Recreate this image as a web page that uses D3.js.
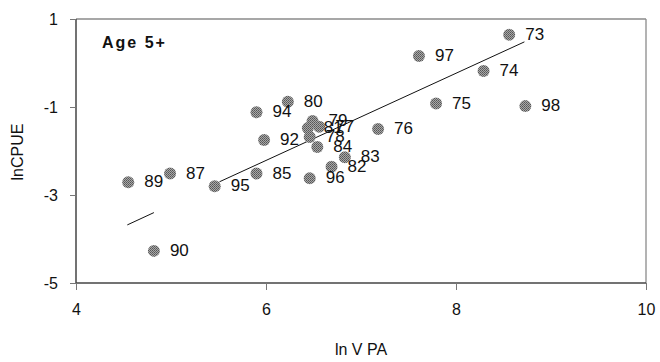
<!DOCTYPE html>
<html>
<head>
<meta charset="utf-8">
<script src="https://cdn.jsdelivr.net/npm/d3@7"></script>
<style>
  html, body { margin: 0; padding: 0; background: #fff; }
  svg { display: block; font-family: "Liberation Sans", Arial, sans-serif; }
</style>
</head>
<body>
<svg id="chart" width="660" height="362"></svg>
<script>
// Year labels (two-digit) with ln VPA and ln CPUE for age 5+
const years = ["73","74","75","76","77","78","79","80","81","82","83","84","85","87","89","90","92","94","95","96","97","98"];
const lnVPA = [8.56, 8.29, 7.79, 7.18, 6.56, 6.46, 6.49, 6.23, 6.44, 6.69, 6.83, 6.54, 5.90, 4.99, 4.55, 4.82, 5.98, 5.90, 5.46, 6.46, 7.61, 8.73];
const lnCPUE = [0.64, -0.18, -0.92, -1.50, -1.45, -1.68, -1.32, -0.88, -1.48, -2.36, -2.14, -1.91, -2.51, -2.51, -2.71, -4.27, -1.75, -1.12, -2.80, -2.62, 0.16, -0.98];

// Fitted trend, drawn in two pieces
const trendX = [[4.54, 4.82], [5.51, 8.72]];
const trendY = [[-3.68, -3.40], [-2.70, 0.48]];

const xTicks = [4, 6, 8, 10];
const yTicks = [1, -1, -3, -5];

const svg = d3.select("#chart");
const m = { left: 76, right: 646, top: 19, bottom: 283 };

const x = d3.scaleLinear().domain([4, 10]).range([m.left, m.right]);
const y = d3.scaleLinear().domain([-5, 1]).range([m.bottom, m.top]);

// Stippled fill for the markers
const defs = svg.append("defs");
const pat = defs.append("pattern")
  .attr("id", "stipple").attr("patternUnits", "userSpaceOnUse")
  .attr("width", 2).attr("height", 2);
pat.append("rect").attr("width", 2).attr("height", 2).attr("fill", "#a8a8a8");
pat.append("rect").attr("width", 1).attr("height", 1).attr("fill", "#555");
pat.append("rect").attr("x", 1).attr("y", 1).attr("width", 1).attr("height", 1).attr("fill", "#666");

// Frame: top and right edges lighter
svg.append("line").attr("x1", m.left).attr("x2", m.right).attr("y1", m.top).attr("y2", m.top)
  .attr("stroke", "#8a8a8a").attr("stroke-width", 1.3);
svg.append("line").attr("x1", m.right).attr("x2", m.right).attr("y1", m.top).attr("y2", m.bottom)
  .attr("stroke", "#8a8a8a").attr("stroke-width", 1.3);

// Axes (plain hyphen for negatives)
const fmt = d => String(d);
const xAxis = d3.axisBottom(x).tickValues(xTicks).tickSize(7).tickPadding(14).tickFormat(fmt);
const yAxis = d3.axisLeft(y).tickValues(yTicks).tickSize(6).tickPadding(12).tickFormat(fmt);

const gx = svg.append("g").attr("transform", `translate(0,${m.bottom})`).call(xAxis);
const gy = svg.append("g").attr("transform", `translate(${m.left},0)`).call(yAxis);

[gx, gy].forEach(g => {
  g.select(".domain").attr("stroke", "#444").attr("stroke-width", 1.5);
  g.selectAll(".tick line").attr("stroke", "#777").attr("stroke-width", 1);
  g.selectAll(".tick text").attr("fill", "#111").style("font-size", "16px")
    .style("font-family", "\"Liberation Sans\", Arial, sans-serif");
});
gy.select(".domain").attr("d", `M0,${m.top}V${m.bottom}`);
gx.select(".domain").attr("d", `M${m.left},0H${m.right}`);
gy.selectAll(".tick text").attr("dy", "0.36em");

// Axis titles
svg.append("text")
  .attr("transform", `translate(23,${(m.top + m.bottom) / 2 + 1}) rotate(-90)`)
  .attr("text-anchor", "middle")
  .style("font-size", "16px").attr("fill", "#111")
  .text("lnCPUE");
svg.append("text")
  .attr("x", 361).attr("y", 355)
  .attr("text-anchor", "middle")
  .style("font-size", "16px").attr("fill", "#111")
  .text("ln V PA");

// Panel label
svg.append("text")
  .attr("x", 102).attr("y", 48)
  .style("font-size", "16px").style("font-weight", "bold")
  .style("letter-spacing", "2px").attr("fill", "#111")
  .text("Age 5+");

// Trend line pieces
const line = d3.line().x(d => x(d[0])).y(d => y(d[1]));
trendX.forEach((xs, i) => {
  svg.append("path")
    .attr("d", line(xs.map((v, j) => [v, trendY[i][j]])))
    .attr("fill", "none").attr("stroke", "#111").attr("stroke-width", 1);
});

// Points and year labels
const pts = years.map((yr, i) => ({ yr, vx: lnVPA[i], vy: lnCPUE[i] }));
svg.append("g").selectAll("circle").data(pts).join("circle")
  .attr("cx", d => x(d.vx)).attr("cy", d => y(d.vy)).attr("r", 6)
  .attr("fill", "url(#stipple)");

svg.append("g").selectAll("text").data(pts).join("text")
  .attr("x", d => x(d.vx) + 16).attr("y", d => y(d.vy) - 1)
  .attr("dy", "0.36em")
  .style("font-size", "17px").attr("fill", "#111")
  .text(d => d.yr);
</script>
</body>
</html>
